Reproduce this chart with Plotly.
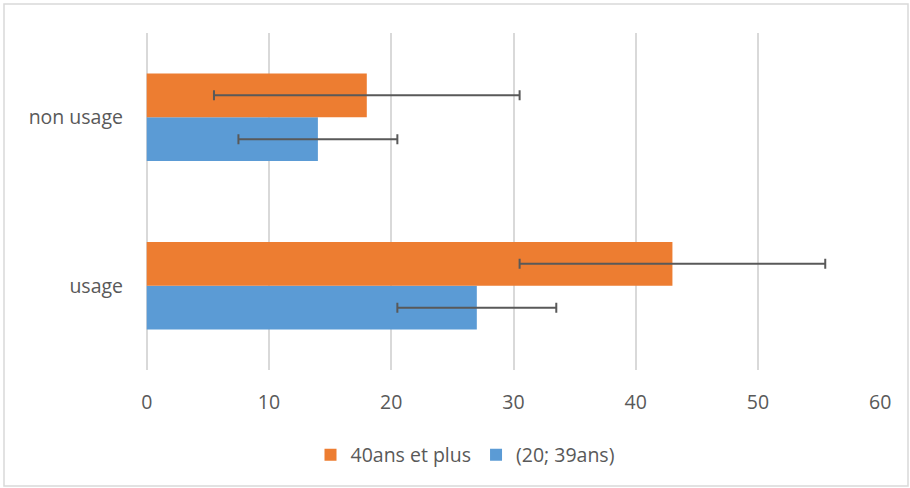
import plotly.graph_objects as go

categories = ["usage", "non usage"]
series_names = ["40ans et plus", "(20; 39ans)"]
values_40plus = [43, 18]
values_20_39 = [27, 14]
err_40plus = [12.5, 12.5]
err_20_39 = [6.5, 6.5]
x_ticks = [0, 10, 20, 30, 40, 50, 60]

font_family = "'Open Sans', sans-serif"
txt = "#595959"
err_color = "#595959"
fs = 19.5

fig = go.Figure()
fig.add_trace(go.Bar(
    y=categories, x=values_20_39, name=series_names[1], orientation="h",
    marker=dict(color="#5B9BD5", line=dict(width=0)),
    error_x=dict(type="data", array=err_20_39, color=err_color, thickness=2, width=5),
))
fig.add_trace(go.Bar(
    y=categories, x=values_40plus, name=series_names[0], orientation="h",
    marker=dict(color="#ED7D31", line=dict(width=0)),
    error_x=dict(type="data", array=err_40plus, color=err_color, thickness=2, width=5),
))

W, H = 910, 488
l, r, t, b = 146, 29, 33, 118
pw, ph = W - l - r, H - t - b

def px_x(p):
    return (p - l) / pw

def px_y(p):
    return (H - b - p) / ph

fig.add_shape(type="rect", xref="paper", yref="paper",
              x0=px_x(4), x1=px_x(908), y0=px_y(486), y1=px_y(4),
              line=dict(color="#d9d9d9", width=1.5), fillcolor="rgba(0,0,0,0)", layer="below")

fig.update_layout(
    width=W, height=H,
    margin=dict(l=l, r=r, t=t, b=b, autoexpand=False),
    paper_bgcolor="white", plot_bgcolor="white",
    barmode="group", bargap=0.48, bargroupgap=0,
    font=dict(family=font_family, size=fs, color=txt),
    showlegend=True,
    legend=dict(orientation="h", traceorder="reversed", x=px_x(465), xanchor="center",
                y=px_y(455), yanchor="middle", font=dict(size=fs, color=txt),
                itemwidth=30, entrywidthmode="pixels"),
    xaxis=dict(range=[-0.06, 60.06], tickvals=x_ticks, showgrid=True, gridcolor="#d9d9d9", gridwidth=1.5,
               zeroline=True, zerolinecolor="#d9d9d9", zerolinewidth=1.5,
               showline=False, ticks="", ticklabelstandoff=18,
               tickfont=dict(size=fs, color=txt), fixedrange=True),
    yaxis=dict(showgrid=False, zeroline=False, showline=False, ticks="",
               ticklabelstandoff=22, tickfont=dict(size=fs, color=txt), fixedrange=True),
)

fig.write_html("out.html", config={"displayModeBar": False},
               post_script="document.body.style.margin='0';document.body.style.padding='0';")
